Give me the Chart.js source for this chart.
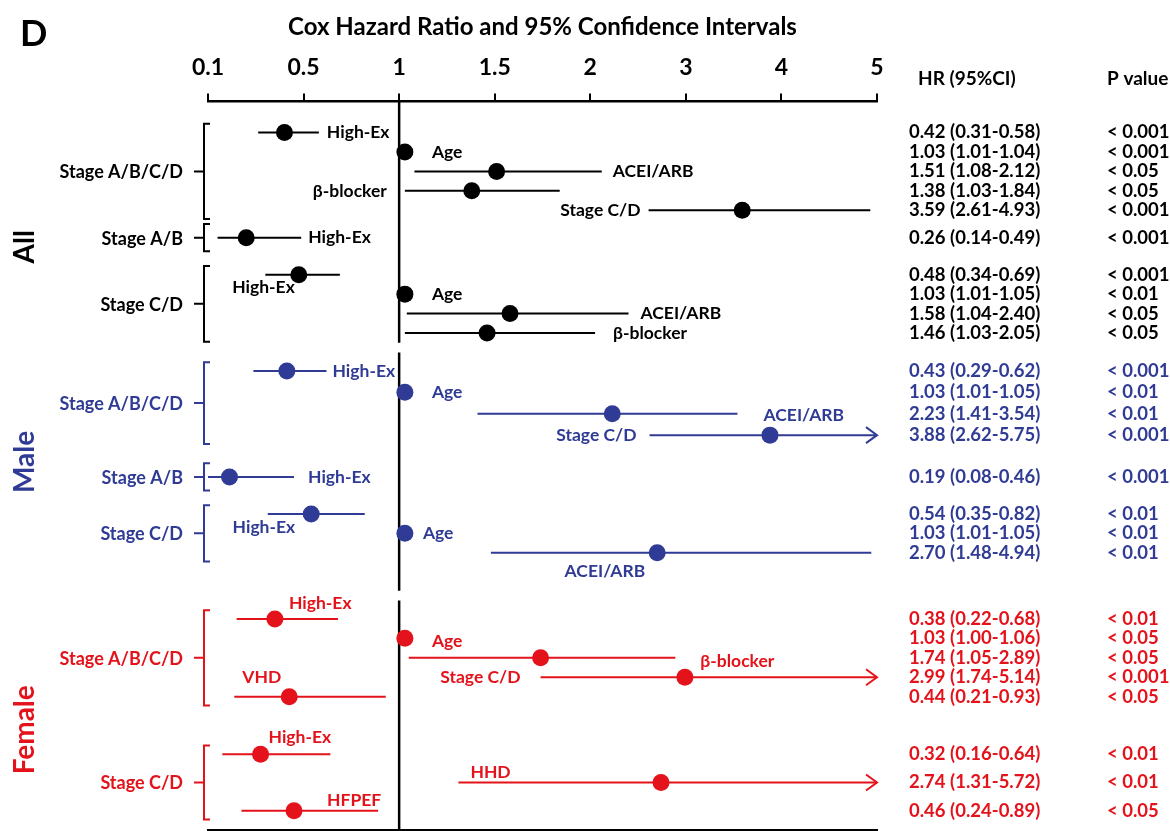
<!DOCTYPE html>
<html>
<head>
<meta charset="utf-8">
<script src="https://cdn.jsdelivr.net/npm/chart.js@4.4.1/dist/chart.umd.min.js"></script>
<style>
  html, body { margin: 0; padding: 0; background: #fff; overflow: hidden; }
  #wrap { width: 1170px; height: 839px; }
</style>
</head>
<body>
<div id="wrap"><canvas id="forestChart"></canvas></div>
<script>
// Cox models: hazard ratio with 95% CI and p value for each covariate
var tickValues = [0.1, 0.5, 1, 1.5, 2, 3, 4, 5];

var rowGroup = [
    'All', 'All', 'All', 'All', 'All', 'All', 'All', 'All', 'All', 'All',
    'Male', 'Male', 'Male', 'Male', 'Male', 'Male', 'Male', 'Male',
    'Female', 'Female', 'Female', 'Female', 'Female', 'Female', 'Female', 'Female'
];
var rowStage = [
    'Stage A/B/C/D', 'Stage A/B/C/D', 'Stage A/B/C/D', 'Stage A/B/C/D', 'Stage A/B/C/D',
    'Stage A/B',
    'Stage C/D', 'Stage C/D', 'Stage C/D', 'Stage C/D',
    'Stage A/B/C/D', 'Stage A/B/C/D', 'Stage A/B/C/D', 'Stage A/B/C/D',
    'Stage A/B',
    'Stage C/D', 'Stage C/D', 'Stage C/D',
    'Stage A/B/C/D', 'Stage A/B/C/D', 'Stage A/B/C/D', 'Stage A/B/C/D', 'Stage A/B/C/D',
    'Stage C/D', 'Stage C/D', 'Stage C/D'
];
var rowVariable = [
    'High-Ex', 'Age', 'ACEI/ARB', 'β-blocker', 'Stage C/D',
    'High-Ex',
    'High-Ex', 'Age', 'ACEI/ARB', 'β-blocker',
    'High-Ex', 'Age', 'ACEI/ARB', 'Stage C/D',
    'High-Ex',
    'High-Ex', 'Age', 'ACEI/ARB',
    'High-Ex', 'Age', 'β-blocker', 'Stage C/D', 'VHD',
    'High-Ex', 'HHD', 'HFPEF'
];
var hazardRatio = [0.42, 1.03, 1.51, 1.38, 3.59, 0.26, 0.48, 1.03, 1.58, 1.46,
    0.43, 1.03, 2.23, 3.88, 0.19, 0.54, 1.03, 2.70,
    0.38, 1.03, 1.74, 2.99, 0.44, 0.32, 2.74, 0.46];
var ciLow = [0.31, 1.01, 1.08, 1.03, 2.61, 0.14, 0.34, 1.01, 1.04, 1.03,
    0.29, 1.01, 1.41, 2.62, 0.08, 0.35, 1.01, 1.48,
    0.22, 1.00, 1.05, 1.74, 0.21, 0.16, 1.31, 0.24];
var ciHigh = [0.58, 1.04, 2.12, 1.84, 4.93, 0.49, 0.69, 1.05, 2.40, 2.05,
    0.62, 1.05, 3.54, 5.75, 0.46, 0.82, 1.05, 4.94,
    0.68, 1.06, 2.89, 5.14, 0.93, 0.64, 5.72, 0.89];
var pValue = ['< 0.001', '< 0.001', '< 0.05', '< 0.05', '< 0.001', '< 0.001', '< 0.001', '< 0.01', '< 0.05', '< 0.05',
    '< 0.001', '< 0.01', '< 0.01', '< 0.001', '< 0.001', '< 0.01', '< 0.01', '< 0.01',
    '< 0.01', '< 0.05', '< 0.05', '< 0.001', '< 0.05', '< 0.01', '< 0.01', '< 0.05'];

var groupColor = { All: '#000000', Male: '#2F3B94', Female: '#E4121A' };
var FONT = 'Lato, "Open Sans", sans-serif';

// the HR axis is drawn piecewise: every tick value is one step apart
function toAxis(v) {
    if (v <= tickValues[0]) return 0;
    for (var i = 1; i < tickValues.length; i++) {
        if (v <= tickValues[i]) {
            return i - 1 + (v - tickValues[i - 1]) / (tickValues[i] - tickValues[i - 1]);
        }
    }
    return tickValues.length - 1;
}

// split rows into bracketed subgroups and stack them down the y axis
var subgroups = [];
rowGroup.forEach(function (g, i) {
    var last = subgroups[subgroups.length - 1];
    if (!last || last.group !== g || last.stage !== rowStage[i]) {
        subgroups.push({ group: g, stage: rowStage[i], rows: [] });
    }
    subgroups[subgroups.length - 1].rows.push(i);
});
var subgroupGap = [0, 1.41, 1.9, 1.95, 2.15, 1.9, 3.4, 2.96];
var subgroupStep = [1, 1, 1, 1.1, 1, 1, 1, 1.45];
var rowSlot = [];
var slot = 0;
subgroups.forEach(function (sg, k) {
    sg.rows.forEach(function (r, j) {
        slot += j === 0 ? subgroupGap[k] : subgroupStep[k];
        rowSlot[r] = slot;
    });
});
var Y_MIN = -1.6, Y_MAX = 35.89;

// where each covariate name sits: anchor, dx, dy
var labelPlacement = [
    ['hi', 8, 0], ['dot', 27, 0], ['hi', 11, 0], ['lo', -18, 0], ['lo', -8, 0],
    ['hi', 7, 0],
    ['dotL', -4, 13], ['dot', 27, 0], ['hi', 12, 0], ['hi', 18, 0],
    ['hi', 6, 0], ['dot', 27, 0], ['hi', 26, 2], ['lo', -13, 0],
    ['hi', 14, 0],
    ['dotL', -16, 13], ['dot', 18, 0], ['dotL', -12, 19],
    ['dot', 14, -16], ['dot', 27, 3], ['hi', 25, 4], ['lo', -20, 0], ['loR', 8, -19],
    ['dot', 8, -17], ['loR', 12, -10], ['dot', 33, -10]
];

var groups = ['All', 'Male', 'Female'];
var datasets = [];

// dots first so they sit on top of the lines
groups.forEach(function (g) {
    var pts = [];
    rowGroup.forEach(function (rg, i) {
        if (rg === g) pts.push({ x: toAxis(hazardRatio[i]), y: rowSlot[i] });
    });
    datasets.push({
        type: 'scatter',
        data: pts,
        backgroundColor: groupColor[g],
        borderWidth: 0,
        pointRadius: 8.5
    });
});

groups.forEach(function (g) {
    var segs = [];
    rowGroup.forEach(function (rg, i) {
        if (rg !== g) return;
        segs.push({ x: toAxis(ciLow[i]), y: rowSlot[i] });
        segs.push({ x: toAxis(ciHigh[i]), y: rowSlot[i] });
        segs.push({ x: NaN, y: NaN });
    });
    datasets.push({
        type: 'line',
        data: segs,
        borderColor: groupColor[g],
        borderWidth: 2,
        pointRadius: 0,
        spanGaps: false,
        fill: false
    });
});

// reference line at HR = 1, broken between All / Male / Female
var refLine = [];
groups.forEach(function (g, k) {
    var first = rowGroup.indexOf(g);
    var top = k === 0 ? Y_MIN : rowSlot[first] - 0.95;
    var bottom;
    if (k === groups.length - 1) {
        bottom = Y_MAX;
    } else {
        bottom = rowSlot[rowGroup.indexOf(groups[k + 1])] - 1.45;
    }
    refLine.push({ x: toAxis(1), y: top }, { x: toAxis(1), y: bottom }, { x: NaN, y: NaN });
});
datasets.push({
    type: 'line',
    data: refLine,
    borderColor: '#000',
    borderWidth: 2.5,
    pointRadius: 0,
    spanGaps: false,
    fill: false
});

var annotations = {
    id: 'forestText',
    afterDatasetsDraw: function (chart) {
        var ctx = chart.ctx;
        var xs = chart.scales.x, ys = chart.scales.y;
        var area = chart.chartArea;
        var px = function (v) { return xs.getPixelForValue(toAxis(v)); };
        ctx.save();
        ctx.textBaseline = 'middle';

        // arrowheads where the upper CI runs past the axis
        rowGroup.forEach(function (g, i) {
            if (ciHigh[i] <= tickValues[tickValues.length - 1]) return;
            var x = xs.getPixelForValue(tickValues.length - 1);
            var y = ys.getPixelForValue(rowSlot[i]);
            ctx.strokeStyle = groupColor[g];
            ctx.lineWidth = 2;
            ctx.beginPath();
            ctx.moveTo(x - 11, y - 8);
            ctx.lineTo(x, y);
            ctx.lineTo(x - 11, y + 8);
            ctx.stroke();
        });

        // covariate names next to their estimates
        ctx.font = 'bold 17.5px ' + FONT;
        rowGroup.forEach(function (g, i) {
            var p = labelPlacement[i];
            var y = ys.getPixelForValue(rowSlot[i]) + p[2];
            var x, align = 'left';
            if (p[0] === 'hi') x = px(ciHigh[i]) + p[1];
            else if (p[0] === 'dot') x = px(hazardRatio[i]) + p[1];
            else if (p[0] === 'loR') x = px(ciLow[i]) + p[1];
            else if (p[0] === 'lo') { x = px(ciLow[i]) + p[1]; align = 'right'; }
            else { x = px(hazardRatio[i]) + p[1]; align = 'right'; }
            ctx.fillStyle = groupColor[g];
            ctx.textAlign = align;
            ctx.fillText(rowVariable[i], x, y);
        });

        // HR (95%CI) and P value columns
        ctx.textAlign = 'left';
        ctx.font = 'bold 18.5px ' + FONT;
        rowGroup.forEach(function (g, i) {
            var y = ys.getPixelForValue(rowSlot[i]);
            ctx.fillStyle = groupColor[g];
            ctx.fillText(hazardRatio[i].toFixed(2) + ' (' + ciLow[i].toFixed(2) + '-' + ciHigh[i].toFixed(2) + ')', area.right + 32, y);
            ctx.fillText(pValue[i], area.right + 230, y);
        });
        ctx.fillStyle = '#000';
        ctx.font = 'bold 19px ' + FONT;
        ctx.fillText('HR (95%CI)', area.right + 41, 79);
        ctx.fillText('P value', area.right + 230, 79);

        // stage brackets with their labels
        subgroups.forEach(function (sg) {
            var a = rowSlot[sg.rows[0]], b = rowSlot[sg.rows[sg.rows.length - 1]];
            var pad = sg.rows.length === 1 ? 0.7 : 0.45;
            var top = ys.getPixelForValue(a - pad), bot = ys.getPixelForValue(b + pad);
            var mid = (top + bot) / 2;
            var bx = area.left - 4;
            ctx.strokeStyle = groupColor[sg.group];
            ctx.lineWidth = 2;
            ctx.beginPath();
            ctx.moveTo(bx + 6, top);
            ctx.lineTo(bx, top);
            ctx.lineTo(bx, bot);
            ctx.lineTo(bx + 6, bot);
            ctx.moveTo(bx, mid);
            ctx.lineTo(bx - 10, mid);
            ctx.stroke();
            ctx.fillStyle = groupColor[sg.group];
            ctx.textAlign = 'right';
            ctx.font = 'bold 18px ' + FONT;
            ctx.fillText(sg.stage, bx - 21, mid + 1);
        });

        // rotated group titles down the left edge
        var titleShift = { All: 14, Male: 0, Female: 15 };
        groups.forEach(function (g) {
            var first = rowGroup.indexOf(g), last = rowGroup.lastIndexOf(g);
            var mid = ys.getPixelForValue((rowSlot[first] + rowSlot[last]) / 2);
            ctx.save();
            ctx.translate(25, mid + titleShift[g]);
            ctx.rotate(-Math.PI / 2);
            ctx.textAlign = 'center';
            ctx.fillStyle = groupColor[g];
            ctx.font = 'bold 28px ' + FONT;
            ctx.fillText(g, 0, 0);
            ctx.restore();
        });

        // panel letter
        ctx.fillStyle = '#000';
        ctx.textAlign = 'left';
        ctx.font = 'bold 36px ' + FONT;
        ctx.fillText('D', 20, 34);
        ctx.restore();
    }
};

var tickLabelOf = function (v) { return tickValues[v] !== undefined ? String(tickValues[v]) : ''; };

var forestCtx = document.getElementById('forestChart').getContext('2d');
var forestChart = new Chart(forestCtx, {
    data: { datasets: datasets },
    options: {
        responsive: true,
        maintainAspectRatio: false,
        animation: false,
        events: [],
        layout: {
            padding: { left: 208, right: 293, top: 0, bottom: 0 }
        },
        scales: {
            x: {
                type: 'linear',
                position: 'top',
                min: 0,
                max: tickValues.length - 1,
                ticks: {
                    stepSize: 1,
                    padding: 12,
                    color: '#000',
                    font: { family: FONT, size: 23, weight: 'bold' },
                    callback: tickLabelOf
                },
                grid: { drawOnChartArea: false, tickLength: 8, color: '#000', lineWidth: 2 },
                border: { color: '#000', width: 2.5 }
            },
            x2: {
                type: 'linear',
                position: 'bottom',
                min: 0,
                max: tickValues.length - 1,
                ticks: { stepSize: 1, display: false },
                grid: { drawOnChartArea: false, tickLength: 8, color: '#000', lineWidth: 2 },
                border: { color: '#000', width: 2.5 }
            },
            y: {
                type: 'linear',
                display: false,
                reverse: true,
                min: Y_MIN,
                max: Y_MAX
            }
        },
        plugins: {
            legend: { display: false },
            tooltip: { enabled: false },
            title: {
                display: true,
                text: 'Cox Hazard Ratio and 95% Confidence Intervals',
                color: '#000',
                font: { family: FONT, size: 24, weight: 'bold' },
                padding: { top: 13, bottom: 0 }
            }
        }
    },
    plugins: [annotations]
});
</script>
</body>
</html>
